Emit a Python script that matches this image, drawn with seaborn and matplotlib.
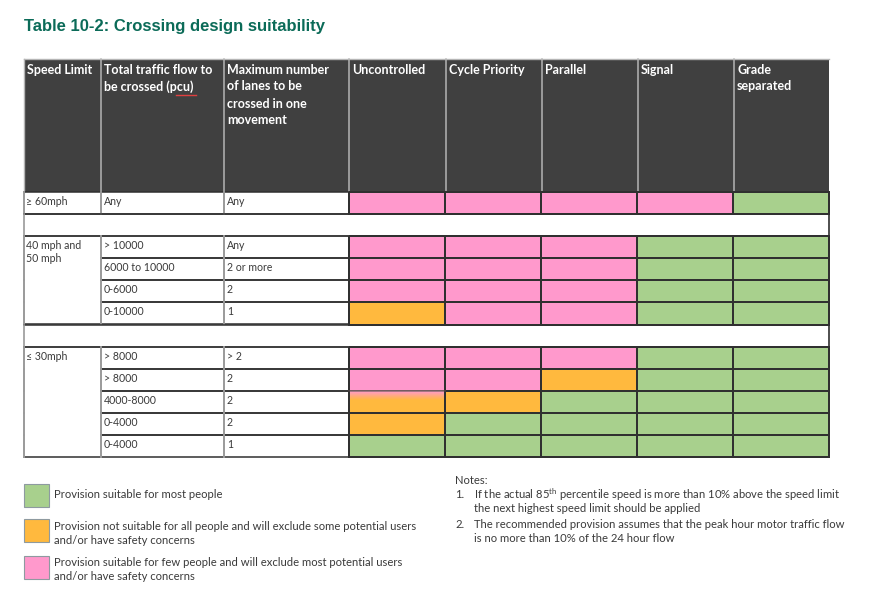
import numpy as np
import pandas as pd
import matplotlib
matplotlib.use("Agg")
import matplotlib.pyplot as plt
import seaborn as sns
from matplotlib.colors import ListedColormap, LinearSegmentedColormap
from matplotlib.patches import Rectangle

# ---------------- data ----------------
title = "Table 10-2: Crossing design suitability"
header_labels = ["Speed Limit", "Total traffic flow to\nbe crossed (pcu)",
                 "Maximum number\nof lanes to be\ncrossed in one\nmovement"]
crossing_types = ["Uncontrolled", "Cycle Priority", "Parallel", "Signal", "Grade\nseparated"]
speed_groups = ["≥ 60mph", "40 mph and\n50 mph", "≤ 30mph"]
group_sizes = [1, 4, 5]
traffic_flows = ["Any", "> 10000", "6000 to 10000", "0-6000", "0-10000",
                 "> 8000", "> 8000", "4000-8000", "0-4000", "0-4000"]
max_lanes = ["Any", "Any", "2 or more", "2", "1", "> 2", "2", "2", "2", "1"]
# suitability: 0 = suitable for most, 1 = not suitable for all, 2 = suitable for few
uncontrolled    = [2, 2, 2, 2, 1, 2, 2, 1, 1, 0]
cycle_priority  = [2, 2, 2, 2, 2, 2, 2, 1, 0, 0]
parallel        = [2, 2, 2, 2, 2, 2, 1, 0, 0, 0]
signal          = [2, 0, 0, 0, 0, 0, 0, 0, 0, 0]
grade_separated = [0, 0, 0, 0, 0, 0, 0, 0, 0, 0]
legend_labels = ["Provision suitable for most people",
                 "Provision not suitable for all people and will exclude some potential users\nand/or have safety concerns",
                 "Provision suitable for few people and will exclude most potential users\nand/or have safety concerns"]
notes_title = "Notes:"
notes = [r"If the actual 85$^{\mathregular{th}}$ percentile speed is more than 10% above the speed limit" + "\nthe next highest speed limit should be applied",
         "The recommended provision assumes that the peak hour motor traffic flow\nis no more than 10% of the 24 hour flow"]

# ---------------- style ----------------
GREEN, ORANGE, PINK = "#A8D08D", "#FFB93E", "#FF99CC"
HEADER = "#404040"
TEXT = "#3a3a3a"
W, H = 873, 596
plt.rcParams['font.family'] = ['Lato', 'DejaVu Sans']
FS_BODY = 7.6
FS_HEAD = 9.0
FS_NOTE = 8.1

fig = plt.figure(figsize=(W / 100, H / 100), dpi=100)
ax = fig.add_axes([0, 0, 1, 1])
ax.set_xlim(0, W)
ax.set_ylim(H, 0)
ax.axis("off")

col_edges = [24, 101, 224, 349, 446, 542, 638, 734, 829]
header_top, body_top, body_bottom = 59, 192, 457
n_body = sum(group_sizes) + len(group_sizes) - 1
row_h = (body_bottom - body_top) / n_body

# title
ax.text(24, 27, title, fontsize=12, fontweight="bold", color="#0B6B58",
        family=["Liberation Sans", "DejaVu Sans"], va="center", ha="left")

# header
ax.add_patch(Rectangle((col_edges[0], header_top), col_edges[-1] - col_edges[0],
                       body_top - header_top, facecolor=HEADER, edgecolor="none", zorder=1))
for x in col_edges[1:-1]:
    ax.plot([x, x], [header_top, body_top], color="#b5b5b5", lw=1.1, zorder=2)
ax.plot([col_edges[0], col_edges[-1]], [header_top, header_top], color="#b5b5b5", lw=1.0, zorder=2)
ax.plot([col_edges[0], col_edges[0]], [header_top, body_top], color="#b5b5b5", lw=1.0, zorder=2)
for i, lab in enumerate(header_labels + crossing_types):
    for j, line in enumerate(lab.split("\n")):
        ax.text(col_edges[i] + 3, 69.5 + j * 17, line, fontsize=FS_HEAD, fontweight="bold",
                color="white", va="center", ha="left", zorder=3)
# spell-check squiggle under pcu
ax.plot([176, 196], [95, 95], color="#e04040", lw=1.0, zorder=3)

# body rows (with blank separators)
row_kind = []  # (group, data index, index in group) or None for blank
d = 0
for g, n in enumerate(group_sizes):
    if g > 0:
        row_kind.append(None)
    for k in range(n):
        row_kind.append((g, d, k))
        d += 1

LINE_DARK = "#303030"
LINE_GREY = "#9a9a9a"
text_right = col_edges[3]
for r, kind in enumerate(row_kind):
    y0 = body_top + r * row_h
    y1 = y0 + row_h
    if kind is None:
        ax.plot([col_edges[0], col_edges[-1]], [y0, y0], color=LINE_DARK, lw=1.1, zorder=2)
        ax.plot([col_edges[0], col_edges[-1]], [y1, y1], color="#555555", lw=1.1, zorder=2)
        ax.plot([col_edges[0], col_edges[0]], [y0, y1], color=LINE_GREY, lw=1.2, zorder=2)
        ax.plot([col_edges[-1], col_edges[-1]], [y0, y1], color=LINE_DARK, lw=1.2, zorder=2)
        continue
    g, di, k = kind
    top_start = col_edges[0] if k == 0 else col_edges[1]
    bot_start = col_edges[0] if k == group_sizes[g] - 1 else col_edges[1]
    ax.plot([top_start, text_right], [y0, y0], color=LINE_DARK, lw=1.1, zorder=2)
    ax.plot([bot_start, text_right], [y1, y1], color=LINE_DARK, lw=1.1, zorder=2)
    for x in col_edges[:3]:
        ax.plot([x, x], [y0, y1], color=LINE_GREY, lw=1.4, zorder=2)
    ax.text(col_edges[1] + 3, y0 + 9.5, traffic_flows[di], fontsize=FS_BODY, color=TEXT,
            va="center", ha="left", zorder=3)
    ax.text(col_edges[2] + 3, y0 + 9.5, max_lanes[di], fontsize=FS_BODY, color=TEXT,
            va="center", ha="left", zorder=3)
    if k == 0:
        for j, line in enumerate(speed_groups[g].split("\n")):
            ax.text(col_edges[0] + 2, y0 + 9.5 + j * 12.5, line, fontsize=FS_BODY, color=TEXT,
                    va="center", ha="left", zorder=3)

# colour matrix via seaborn heatmaps (one per speed group)
suit = pd.DataFrame({c.replace("\n", " "): v for c, v in
                     zip(crossing_types, [uncontrolled, cycle_priority, parallel, signal, grade_separated])})
cmap = ListedColormap([GREEN, ORANGE, PINK])
haxes = []
r = 0
start = 0
for g, n in enumerate(group_sizes):
    if g > 0:
        r += 1
    y_top = body_top + r * row_h
    y_bot = y_top + n * row_h
    hax = fig.add_axes([col_edges[3] / W, 1 - y_bot / H,
                        (col_edges[-1] - col_edges[3]) / W, (y_bot - y_top) / H])
    hax.patch.set_alpha(0)
    sns.heatmap(suit.iloc[start:start + n], ax=hax, cmap=cmap, vmin=-0.5, vmax=2.5,
                cbar=False, linewidths=1.1, linecolor=LINE_DARK,
                xticklabels=False, yticklabels=False)
    hax.collections[0].set_clip_on(False)
    hax.set_xlabel("")
    hax.set_ylabel("")
    haxes.append(hax)
    r += n
    start += n

# soft pink-to-orange blend at the top of the "Uncontrolled / 4000-8000" cell
hax = haxes[2]
grad = np.linspace(0, 1, 50).reshape(-1, 1)
blend = LinearSegmentedColormap.from_list("blend", [PINK, ORANGE])
xl, yl = hax.get_xlim(), hax.get_ylim()
hax.imshow(grad, cmap=blend, aspect="auto", extent=[0.01, 0.985, 2.4, 2.0],
           interpolation="bilinear", zorder=0.5)
hax.set_xlim(xl)
hax.set_ylim(yl)
hax.collections[0].set_zorder(0.4)
hax.collections[0].set_facecolor(hax.collections[0].get_facecolor())
hax.add_collection  # keep mesh edges visible
hax.plot([0, 1], [2, 2], color="#8a6a70", lw=1.1, zorder=1, clip_on=False)
hax.plot([0, 0], [2, 3], color=LINE_DARK, lw=1.1, zorder=1, clip_on=False)
hax.plot([1, 1], [2, 3], color=LINE_DARK, lw=1.1, zorder=1, clip_on=False)

# legend
swatch_y = [(484, 507), (519, 542), (556, 579)]
label_y = [[495], [527, 541], [562, 576]]
for color, (ya, yb), lab, ys in zip([GREEN, ORANGE, PINK], swatch_y, legend_labels, label_y):
    ax.add_patch(Rectangle((24, ya), 25, yb - ya, facecolor=color, edgecolor="#8e9aa0", lw=0.8))
    for line, yy in zip(lab.split("\n"), ys):
        ax.text(54, yy, line, fontsize=FS_NOTE, color=TEXT, va="center", ha="left")

# notes
ax.text(455, 481, notes_title, fontsize=FS_NOTE, color=TEXT, va="center", ha="left")
note_y = [[495, 509], [525, 539]]
for i, (nt, ys) in enumerate(zip(notes, note_y)):
    ax.text(455, ys[0], f"{i + 1}.", fontsize=FS_NOTE, color=TEXT, va="center", ha="left")
    for line, yy in zip(nt.split("\n"), ys):
        ax.text(474, yy, line, fontsize=FS_NOTE, color=TEXT, va="center", ha="left")

fig.savefig("out.png", dpi=100)
